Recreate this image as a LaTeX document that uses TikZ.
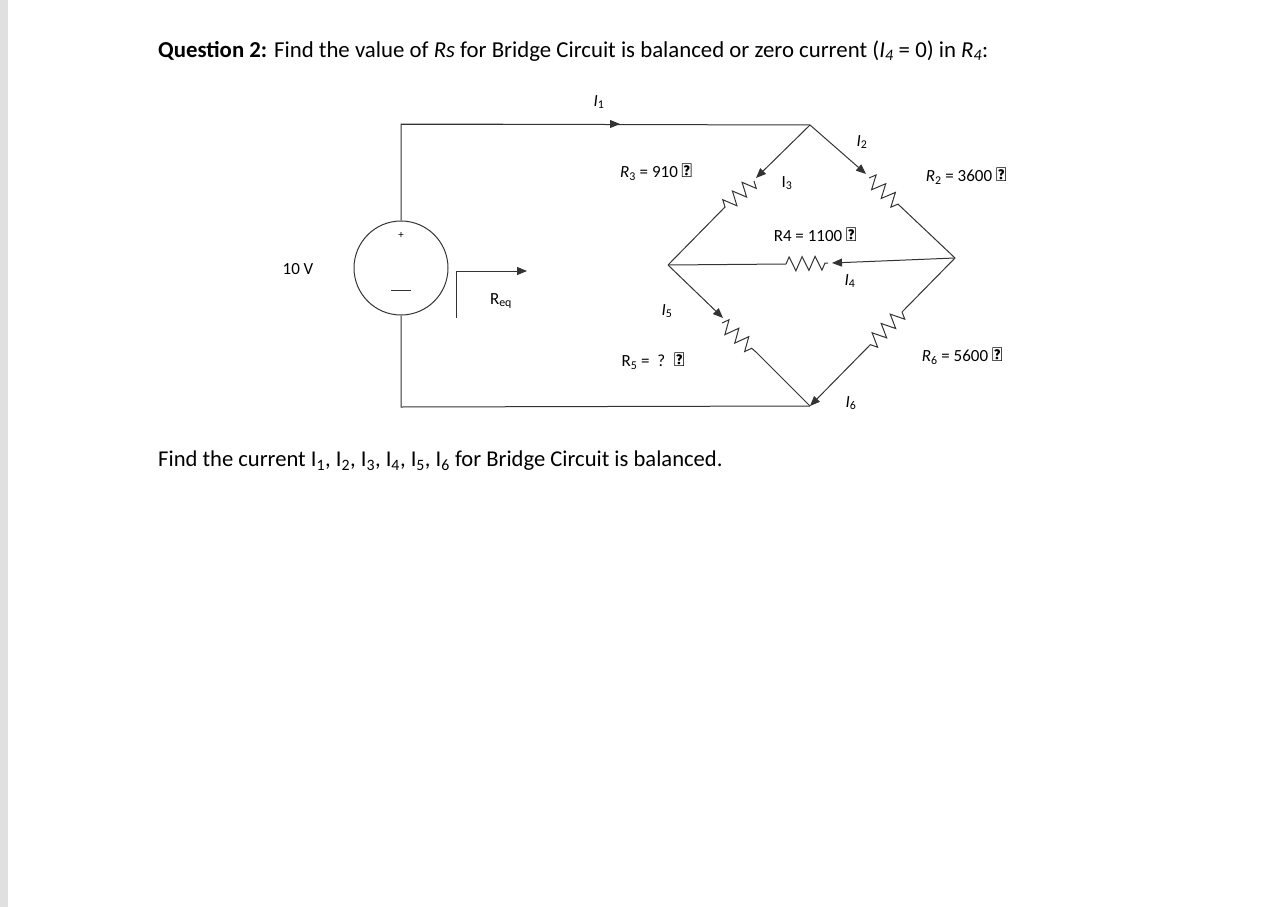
\documentclass[tikz,border=0pt]{standalone}
\usepackage{fontspec}
\setmainfont{Carlito}
\usetikzlibrary{decorations.pathmorphing,arrows.meta}
\newcommand{\Om}{{\fontsize{20}{20}\selectfont$\mathbf{\Omega}$}}
\begin{document}
\begin{tikzpicture}[x=1pt,y=-1pt,
  wire/.style={draw=black!80,line width=1pt},
  cur/.style={wire,-{Triangle[length=10pt,width=8pt]}},
  res/.style={wire,decorate,decoration={zigzag,segment length=13pt,amplitude=7pt}},
  lbl/.style={font=\fontsize{17}{19}\selectfont,inner sep=0pt}]
\useasboundingbox (0,0) rectangle (1276,907);
\fill[black!12] (0,0) rectangle (8,907);
\node[anchor=west,font=\fontsize{22.8}{26}\selectfont,inner sep=0pt] (title) at (158,51) {\textbf{Question 2:} Find the value of \textit{Rs} for Bridge Circuit is balanced or zero current (\textit{I\textsubscript{4}} = 0) in \textit{R\textsubscript{4}}:};
\node[anchor=west,font=\fontsize{22.6}{26}\selectfont,inner sep=0pt] (q) at (158,461) {Find the current I\textsubscript{1}, I\textsubscript{2}, I\textsubscript{3}, I\textsubscript{4}, I\textsubscript{5}, I\textsubscript{6} for Bridge Circuit is balanced.};
% nodes
\coordinate (tl) at (401,124);
\coordinate (bl) at (401,407);
\coordinate (T) at (810,125);
\coordinate (L) at (668,265);
\coordinate (R) at (955,258);
\coordinate (B) at (810,406);
\node[circle,draw=black!80,line width=1pt,minimum size=94pt,inner sep=0pt] (src) at (401,268) {};
\node[font=\fontsize{11}{12}\selectfont] (plus) at (401,235) {+};
\draw[wire] (391,290) -- (411,290);
\draw[wire] (src.north) -- (tl) -- (T);
\draw[wire] (src.south) -- (bl) -- (B);
\coordinate (i1) at (620,124);
\draw[cur] (tl) -- (i1);
% R3
\coordinate (a3) at (756,178); \coordinate (b3) at (724,208);
\draw[cur] (T) -- (a3);
\draw[res] (754,181) -- (b3);
\draw[wire] (b3) -- (L);
% R2
\coordinate (a2) at (866,174); \coordinate (b2) at (900,206);
\draw[cur] (T) -- (a2);
\draw[res] (869,178) -- (b2);
\draw[wire] (b2) -- (R);
% R4
\coordinate (a4) at (786,264); \coordinate (b4) at (828,263);
\draw[wire] (L) -- (a4);
\draw[res] (a4) -- (b4);
\draw[cur] (R) -- (832,263);
% R5
\coordinate (a5) at (723,318); \coordinate (b5) at (756,352);
\draw[cur] (L) -- (a5);
\draw[res] (722,323) -- (b5);
\draw[wire] (b5) -- (B);
% R6
\coordinate (a6) at (902,312); \coordinate (b6) at (870,345);
\draw[wire] (R) -- (a6);
\draw[res] (a6) -- (b6);
\draw[cur] (b6) -- (B);
% Req
\draw[cur] (456,318) -- (456,271) -- (527,271);
% labels
\node[lbl] (l10) at (298,269) {10 V};
\node[lbl] (lreq) at (501,301) {R\textsubscript{eq}};
\node[lbl] (li1) at (599,102) {\textit{I}\textsubscript{1}};
\node[lbl] (li2) at (862,142) {\textit{I}\textsubscript{2}};
\node[lbl] (li3) at (787,183) {I\textsubscript{3}};
\node[lbl] (li4) at (850,281) {\textit{I}\textsubscript{4}};
\node[lbl] (li5) at (667,311) {\textit{I}\textsubscript{5}};
\node[lbl] (li6) at (851,403) {\textit{I}\textsubscript{6}};
\node[lbl] (lr3) at (656,172) {\textit{R}\textsubscript{3} = 910 \Om};
\node[lbl] (lr2) at (966,176) {\textit{R}\textsubscript{2} = 3600 \Om};
\node[lbl] (lr4) at (815,235) {R4 = 1100 \Om};
\node[lbl] (lr5) at (653,361) {R\textsubscript{5} = \ ? \ \Om};
\node[lbl] (lr6) at (962,356) {\textit{R}\textsubscript{6} = 5600 \Om};
\end{tikzpicture}
\end{document}
